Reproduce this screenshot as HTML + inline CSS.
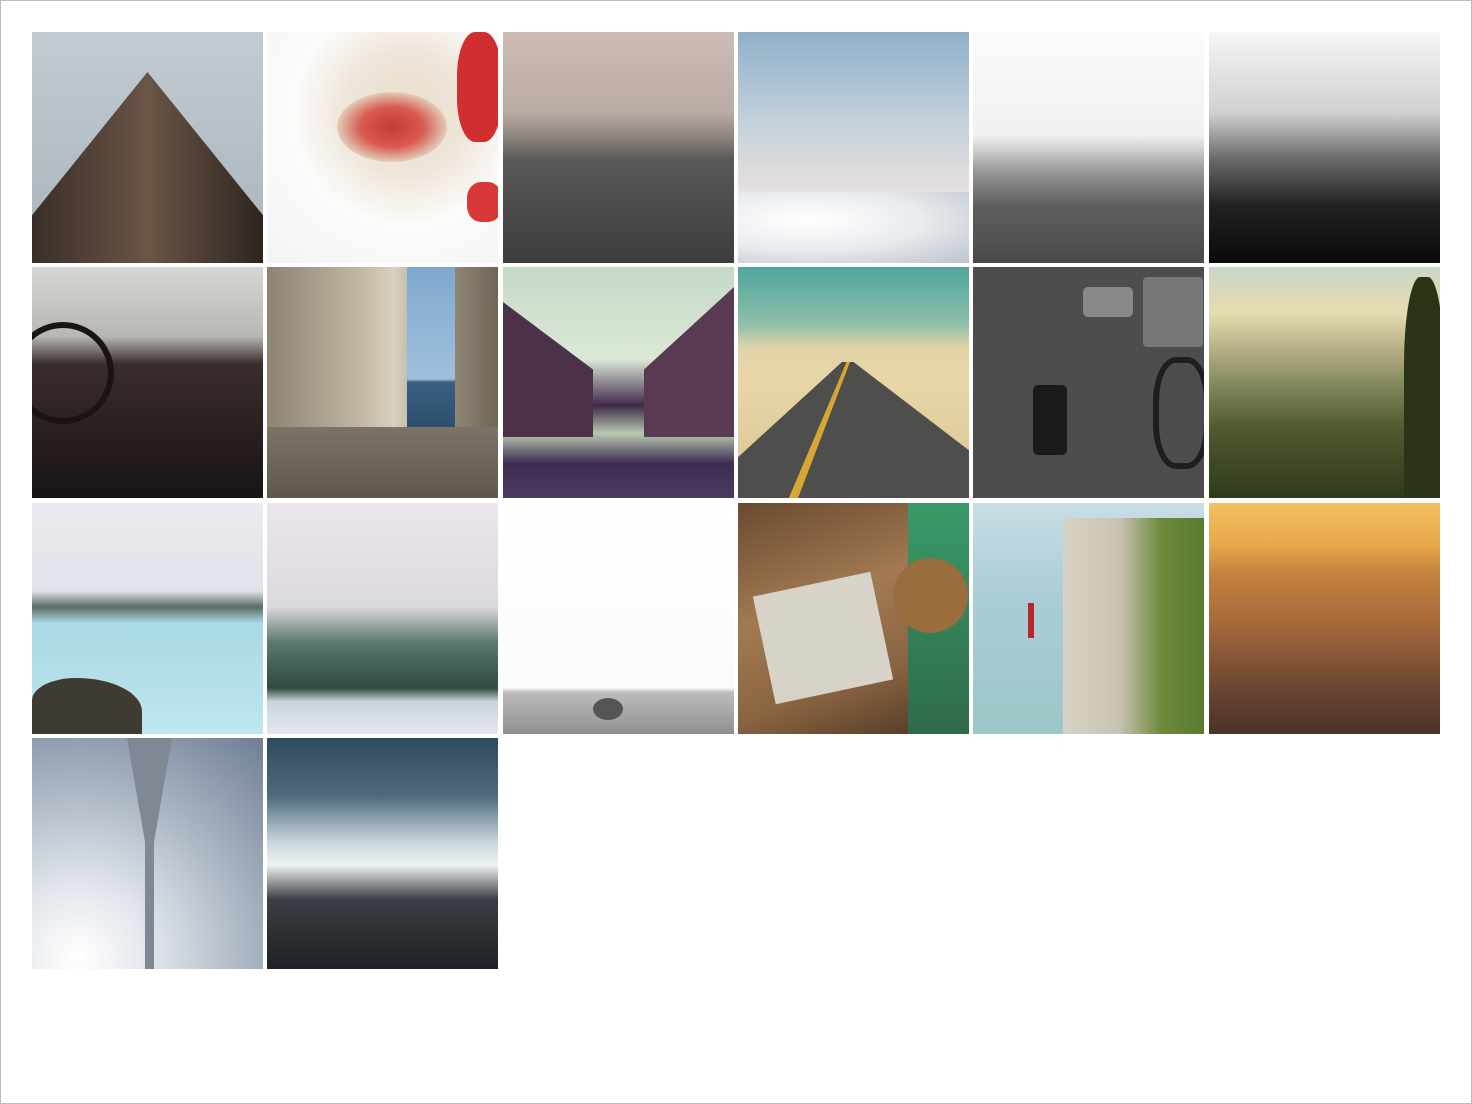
<!DOCTYPE html>
<html><head><meta charset="utf-8"><style>
html,body{margin:0;padding:0;background:#fff}
#page{position:relative;width:1470px;height:1102px;border:1px solid #bbb;overflow:hidden;font-family:"Liberation Sans",sans-serif}
.t{position:absolute;width:231px;height:231px;overflow:hidden}
.s{position:absolute}
</style></head><body>
<div id="page">

<div class="t" style="left:31px;top:31px;background:linear-gradient(#c2cbd2,#a9b3bb)">
 <div class="s" style="left:0;top:40px;width:231px;height:191px;background:linear-gradient(90deg,#3a2e28,#6a5546 50%,#2e2520);clip-path:polygon(50% 0,100% 75%,100% 100%,0 100%,0 75%)"></div>
</div>
<div class="t" style="left:266px;top:31px;background:radial-gradient(circle at 60% 35%,#e9dccb 0,#efe6da 30%,#fbfbfa 55%,#f3f3f3 100%)">
 <div class="s" style="left:70px;top:60px;width:110px;height:70px;border-radius:50%;background:radial-gradient(#c43a35 0,#d85a50 40%,#e3c9b5 70%,transparent 72%)"></div>
 <div class="s" style="left:190px;top:0;width:45px;height:110px;border-radius:40%;background:#cf2f2f"></div>
 <div class="s" style="left:200px;top:150px;width:35px;height:40px;border-radius:40%;background:#d83838"></div>
</div>
<div class="t" style="left:502px;top:31px;background:linear-gradient(#cdbcb5 0,#b9aaa3 35%,#8f8680 45%,#5b5957 55%,#3d3d3d 100%)"></div>
<div class="t" style="left:737px;top:31px;background:linear-gradient(#8fb0c9 0,#c4d2dc 40%,#e3dcdc 65%,#f2f2f4 80%,#dfe3e8 100%)">
 <div class="s" style="left:0;top:160px;width:231px;height:71px;background:radial-gradient(ellipse at 30% 40%,#fff 0,#e8ebef 50%,#bcc3cb 100%)"></div>
</div>
<div class="t" style="left:972px;top:31px;background:linear-gradient(#fbfbfb 0,#f0f0f0 45%,#9a9a9a 60%,#5e5e5e 75%,#4a4a4a 100%)"></div>
<div class="t" style="left:1208px;top:31px;background:linear-gradient(#f6f6f6 0,#d0d0d0 35%,#6a6a6a 55%,#222 75%,#0a0a0a 100%)"></div>

<div class="t" style="left:31px;top:266px;background:linear-gradient(#d6d6d4 0,#b9b7b3 30%,#3a2e2c 42%,#2a2020 70%,#1a1414 100%)">
 <div class="s" style="left:-20px;top:55px;width:90px;height:90px;border:6px solid #1a1414;border-radius:50%"></div>
</div>
<div class="t" style="left:266px;top:266px;background:linear-gradient(90deg,#8c8373 0,#c0b6a3 40%,#d9d1c0 55%,#9a9080 75%,#6f6656 100%)">
 <div class="s" style="left:140px;top:0;width:48px;height:160px;background:linear-gradient(#7fa8cf,#9fc0dc 70%,#3a5f82 72%,#2d4f6f)"></div>
 <div class="s" style="left:0;top:160px;width:231px;height:71px;background:linear-gradient(#7c7466,#5e574d)"></div>
</div>
<div class="t" style="left:502px;top:266px;background:linear-gradient(#c5d9c8 0,#dbe8d6 40%,#3f2a4a 60%,#b8c8b0 72%,#3e2c52 85%,#4a3a62 100%)">
 <div class="s" style="left:0;top:20px;width:90px;height:150px;background:#4b3248;clip-path:polygon(0 10%,100% 55%,100% 100%,0 100%)"></div>
 <div class="s" style="left:141px;top:20px;width:90px;height:150px;background:#5a3a52;clip-path:polygon(100% 0,0 55%,0 100%,100% 100%)"></div>
</div>
<div class="t" style="left:737px;top:266px;background:linear-gradient(#4fa59e 0,#8fbfa8 25%,#e1d4a8 35%,#e8d6a6 50%,#d9c493 100%)">
 <div class="s" style="left:0;top:95px;width:231px;height:136px;background:#4e4e4c;clip-path:polygon(45% 0,50% 0,100% 65%,100% 100%,0 100%,0 70%)"></div>
 <div class="s" style="left:0;top:95px;width:231px;height:136px;background:#d8a634;clip-path:polygon(47% 0,48.5% 0,26% 100%,22% 100%)"></div>
</div>
<div class="t" style="left:972px;top:266px;background:#4d4d4f">
 <div class="s" style="left:170px;top:10px;width:60px;height:70px;background:#777;border-radius:4px"></div>
 <div class="s" style="left:60px;top:118px;width:34px;height:70px;background:#1a1a1a;border-radius:5px"></div>
 <div class="s" style="left:180px;top:90px;width:45px;height:100px;border:6px solid #1e1e1e;border-radius:40%"></div>
 <div class="s" style="left:110px;top:20px;width:50px;height:30px;background:#888;border-radius:5px"></div>
</div>
<div class="t" style="left:1208px;top:266px;background:linear-gradient(#c9d6c8 0,#e6dcb0 20%,#bab087 35%,#868a60 50%,#4e5a2e 70%,#2f3a1b 100%)">
 <div class="s" style="left:195px;top:10px;width:40px;height:221px;background:#2a3518;border-radius:40% 40% 0 0"></div>
</div>

<div class="t" style="left:31px;top:502px;background:linear-gradient(#eaeaf0 0,#e1e3ea 38%,#5c6c66 45%,#a8d9e4 52%,#bfe6ee 100%)">
 <div class="s" style="left:0;top:175px;width:110px;height:56px;background:#3f3a32;border-radius:40% 60% 0 0"></div>
</div>
<div class="t" style="left:266px;top:502px;background:linear-gradient(#ebe6ed 0,#dcd8e0 45%,#5c7a70 60%,#2f4a3e 80%,#c9d4dc 86%,#e2e8ee 100%)"></div>
<div class="t" style="left:502px;top:502px;background:linear-gradient(#fff 0,#fbfbfb 80%,#bdbdbd 82%,#8f8f8f 100%)">
 <div class="s" style="left:90px;top:195px;width:30px;height:22px;background:#555;border-radius:50%"></div>
</div>
<div class="t" style="left:737px;top:502px;background:linear-gradient(160deg,#6a4a30 0,#a27a52 40%,#8a6441 70%,#4a3422 100%)">
 <div class="s" style="left:170px;top:0;width:61px;height:231px;background:linear-gradient(#3a9a68,#2f6a4a)"></div>
 <div class="s" style="left:25px;top:80px;width:120px;height:110px;background:#d8d3c8;transform:rotate(-12deg)"></div>
 <div class="s" style="left:155px;top:55px;width:75px;height:75px;background:#9a6c3e;border-radius:50%"></div>
</div>
<div class="t" style="left:972px;top:502px;background:linear-gradient(#c9dde6 0,#aacdd6 40%,#9cc6c8 100%)">
 <div class="s" style="left:90px;top:15px;width:141px;height:216px;background:linear-gradient(90deg,#d8d2c4,#c8c2b2 40%,#6b8a3a 70%,#5a7a30)" ></div>
 <div class="s" style="left:55px;top:100px;width:6px;height:35px;background:#b82828"></div>
</div>
<div class="t" style="left:1208px;top:502px;background:linear-gradient(#f2c064 0,#e8a84a 18%,#c4843e 30%,#a2653a 55%,#6a4632 80%,#4a3228 100%)"></div>

<div class="t" style="left:31px;top:737px;background:radial-gradient(circle at 20% 95%,#fff 0,#e2e6ec 25%,#a9b4c2 60%,#6f7e94 100%)">
 <div class="s" style="left:95px;top:0;width:45px;height:231px;background:#7f8894;clip-path:polygon(0 0,100% 0,60% 45%,60% 100%,40% 100%,40% 45%)"></div>
</div>
<div class="t" style="left:266px;top:737px;background:linear-gradient(#2f4a5e 0,#4e6a7c 25%,#c8d6dc 45%,#eef2f2 55%,#3a3e44 70%,#1e2226 100%)"></div>

</div>
</body></html>
